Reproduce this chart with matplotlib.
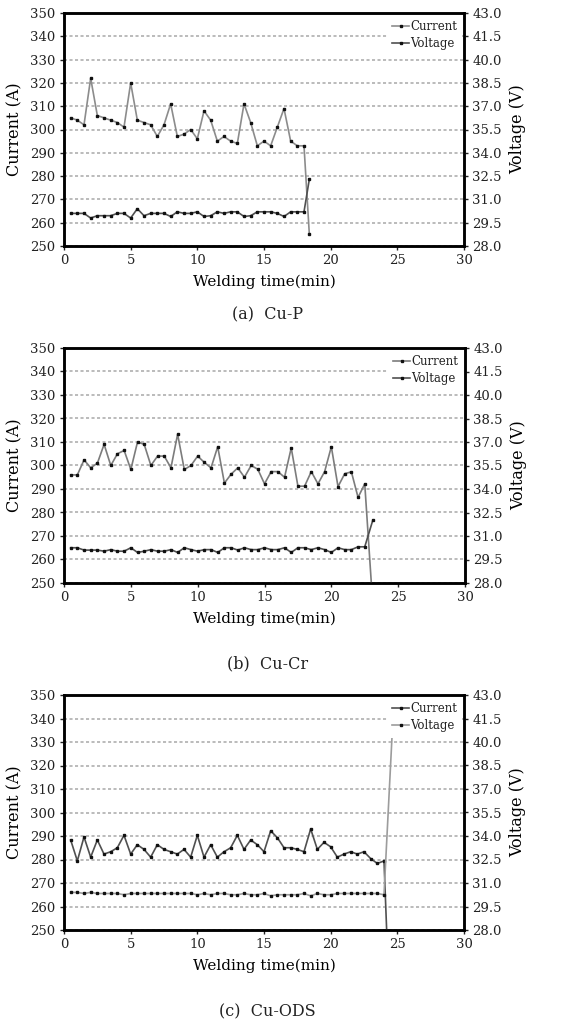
import numpy as np
import matplotlib.pyplot as plt

plt.rcParams['font.family'] = 'DejaVu Serif'
plt.rcParams['text.color'] = '#222222'

# --- data (time in min, current in A, voltage in V) ---
# (a) Cu-P
time_a = list(np.arange(0.5, 18.01, 0.5))
current_a = [305, 304, 302, 322, 306, 305, 304, 303, 301, 320, 304, 303,
             302, 297, 302, 311, 297, 298, 300, 296, 308, 304, 295, 297,
             295, 294, 311, 303, 293, 295, 293, 301, 309, 295, 293, 293]
voltage_a = [30.1, 30.1, 30.1, 29.8, 29.95, 29.95, 29.95, 30.1, 30.1, 29.8,
             30.4, 29.95, 30.1, 30.1, 30.1, 29.9, 30.2, 30.1, 30.1, 30.2,
             29.9, 29.95, 30.2, 30.1, 30.2, 30.2, 29.9, 29.95, 30.2, 30.2,
             30.2, 30.1, 29.9, 30.2, 30.2, 30.2]
end_a = {'t_cur': 18.4, 'cur': 255, 't_volt': 18.4, 'volt': 32.3}

# (b) Cu-Cr
time_b = list(np.arange(0.5, 22.51, 0.5))
current_b = [296, 296, 302.4, 299, 301, 309, 300, 305, 306.4, 298.3, 310, 309,
             300, 304, 304, 299, 313.3, 298.3, 300, 304, 301.3, 299, 308, 292.5,
             296.3, 299, 295, 300, 298.4, 292.2, 297.4, 297.4, 295, 307.5, 291.2,
             291.2, 297.4, 292.2, 297.4, 308, 291, 296.5, 297.3, 286.4, 292.2]
voltage_b = [30.25, 30.25, 30.1, 30.1, 30.1, 30.03, 30.13, 30.03, 30.03, 30.25,
             29.95, 30.03, 30.13, 30.03, 30.03, 30.13, 29.95, 30.25, 30.13, 30.03,
             30.13, 30.13, 29.95, 30.25, 30.25, 30.1, 30.25, 30.13, 30.13, 30.25,
             30.13, 30.13, 30.25, 29.95, 30.25, 30.25, 30.13, 30.25, 30.13, 29.95,
             30.25, 30.13, 30.13, 30.31, 30.31]
end_b = {'t_cur': 23.05, 'cur': 245, 't_volt': 23.1, 'volt': 32.0}

# (c) Cu-ODS
time_c = list(np.arange(0.5, 24.01, 0.5))
current_c = [288.3, 279.4, 289.6, 281, 288.3, 282.3, 283.3, 285, 290.3, 282.3,
             286.3, 284.3, 281, 286.3, 284.3, 283.3, 282.3, 284.3, 281, 290.3,
             281, 286.3, 281, 283.3, 285, 290.3, 284.3, 288.3, 286.3, 283.3,
             292.2, 289.3, 285, 285, 284.3, 283.3, 293, 284.3, 287.3, 285.4,
             281, 282.3, 283.3, 282.3, 283.3, 280.4, 278.3, 279.4]
voltage_c = [30.4, 30.4, 30.33, 30.4, 30.33, 30.33, 30.33, 30.33, 30.25, 30.33,
             30.33, 30.33, 30.33, 30.33, 30.33, 30.33, 30.33, 30.33, 30.33, 30.25,
             30.33, 30.25, 30.33, 30.33, 30.25, 30.25, 30.33, 30.25, 30.25, 30.33,
             30.18, 30.25, 30.25, 30.25, 30.25, 30.33, 30.18, 30.33, 30.25, 30.25,
             30.33, 30.33, 30.33, 30.33, 30.33, 30.33, 30.33, 30.25]
end_c = {'t_cur': 24.3, 'cur': 235, 't_volt': 24.7, 'volt': 42.0}

captions = ['(a)  Cu-P', '(b)  Cu-Cr', '(c)  Cu-ODS']
current_ticks = list(range(250, 351, 10))
voltage_ticks = [28.0, 29.5, 31.0, 32.5, 34.0, 35.5, 37.0, 38.5, 40.0, 41.5, 43.0]
xticks = [0, 5, 10, 15, 20, 25, 30]

# --- layout (pixels in a 586x1025 figure) ---
W, H = 586, 1025
boxes = [(64, 13, 400, 233), (64, 348, 401, 235), (64, 695, 400, 235)]
caption_y = [315, 664, 1012]
colors = [('#8c8c8c', '#505050'), ('#7c7c7c', '#505050'), ('#505050', '#9c9c9c')]

fig = plt.figure(figsize=(W / 100, H / 100), dpi=100)

panels = [(time_a, current_a, voltage_a, end_a),
          (time_b, current_b, voltage_b, end_b),
          (time_c, current_c, voltage_c, end_c)]

for i, (t, cur, volt, end) in enumerate(panels):
    x0, y0, w, h = boxes[i]
    ax = fig.add_axes([x0 / W, 1 - (y0 + h) / H, w / W, h / H])
    c_col, v_col = colors[i]

    t_cur = t + [end['t_cur']]
    t_volt = t + [end['t_volt']]
    l1, = ax.plot(t_cur, cur + [end['cur']], color=c_col, lw=1.2, marker='s',
                  ms=1.7, mfc='#111111', mec='#111111', label='Current', zorder=3)
    ax2 = ax.twinx()
    l2, = ax2.plot(t_volt, volt + [end['volt']], color=v_col, lw=1.2, marker='s',
                   ms=1.7, mfc='#111111', mec='#111111', label='Voltage', zorder=3)

    ax.set_xlim(0, 30)
    ax.set_ylim(250, 350)
    ax2.set_ylim(28, 43)
    ax.set_xticks(xticks)
    ax.set_yticks(current_ticks)
    ax2.set_yticks(voltage_ticks)
    ax2.set_yticklabels([f'{v:.1f}' for v in voltage_ticks])

    ax.yaxis.grid(True, ls=(0, (2, 1.6)), color='#a8a8a8', lw=1.1)
    ax.set_axisbelow(True)

    for a in (ax, ax2):
        for s in a.spines.values():
            s.set_linewidth(1.8)
        a.tick_params(direction='out', length=3, width=1, labelsize=9.5,
                      colors='#222222', pad=3)

    ax.set_xlabel('Welding time(min)', fontsize=11, labelpad=5)
    ax.set_ylabel('Current (A)', fontsize=11.5, labelpad=5)
    ax2.set_ylabel('Voltage (V)', fontsize=11.5, labelpad=5)

    leg = ax2.legend([l1, l2], ['Current', 'Voltage'], loc='upper right',
                     fontsize=8.5, frameon=True, facecolor='white',
                     edgecolor='none', framealpha=1, fancybox=False,
                     handlelength=1.4, handletextpad=0.1, borderpad=0.45,
                     labelspacing=0.35, borderaxespad=0.15, numpoints=1)
    leg.set_zorder(10)

    fig.text(0.456, 1 - caption_y[i] / H, captions[i], ha='center', va='center',
             fontsize=11.5)

fig.savefig('out.png', dpi=100)
